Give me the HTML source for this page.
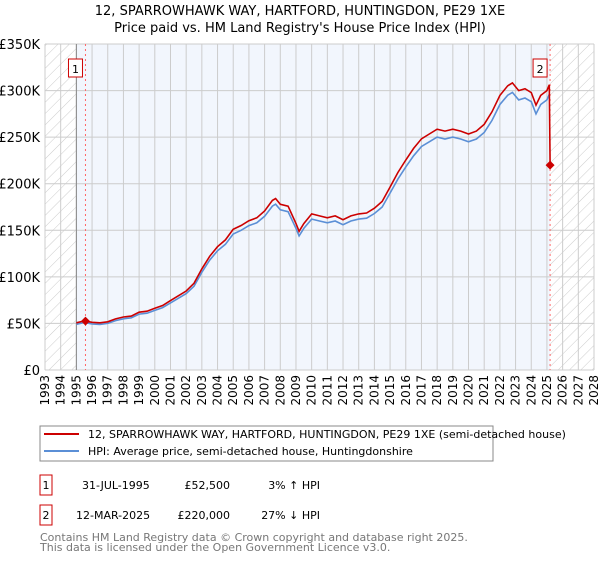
<!DOCTYPE html>
<html><head><meta charset="utf-8"><style>
body{margin:0;background:#fff;font-family:"Liberation Sans","DejaVu Sans",sans-serif;}
svg text{font-family:"DejaVu Sans","Liberation Sans",sans-serif;}
</style></head><body>
<svg width="600" height="560" viewBox="0 0 600 560">
<defs>
<pattern id="hatch" width="8" height="8" patternUnits="userSpaceOnUse" patternTransform="rotate(45)">
<rect width="8" height="8" fill="#fff"/><line x1="0" y1="0" x2="0" y2="8" stroke="#ccc" stroke-width="1"/>
</pattern>
</defs>
<text x="300" y="15" text-anchor="middle" font-size="13">12, SPARROWHAWK WAY, HARTFORD, HUNTINGDON, PE29 1XE</text>
<text x="300" y="32" text-anchor="middle" font-size="13">Price paid vs. HM Land Registry's House Price Index (HPI)</text>
<g id="plot"></g>
<g>
<rect x="40" y="426" width="453" height="35" fill="#fff" stroke="#888"/>
<line x1="44" y1="434" x2="79" y2="434" stroke="#cc0000" stroke-width="2"/>
<text x="88" y="438" font-size="11">12, SPARROWHAWK WAY, HARTFORD, HUNTINGDON, PE29 1XE (semi-detached house)</text>
<line x1="44" y1="451" x2="79" y2="451" stroke="#5b8fd6" stroke-width="2"/>
<text x="88" y="455" font-size="11">HPI: Average price, semi-detached house, Huntingdonshire</text>
</g>
<g font-size="11">
<rect x="40" y="475" width="12" height="20" fill="#fff" stroke="#cc0000"/>
<text x="46" y="489" text-anchor="middle">1</text>
<text x="82" y="489">31-JUL-1995</text>
<text x="230" y="489" text-anchor="end">£52,500</text>
<text x="320" y="489" text-anchor="end">3% ↑ HPI</text>
<rect x="40" y="505" width="12" height="20" fill="#fff" stroke="#cc0000"/>
<text x="46" y="519" text-anchor="middle">2</text>
<text x="76" y="519">12-MAR-2025</text>
<text x="230" y="519" text-anchor="end">£220,000</text>
<text x="320" y="519" text-anchor="end">27% ↓ HPI</text>
</g>
<text x="40" y="541" font-size="11" fill="#777">Contains HM Land Registry data © Crown copyright and database right 2025.</text>
<text x="40" y="551" font-size="11" fill="#777">This data is licensed under the Open Government Licence v3.0.</text>
</svg>
<script>
const hpiYears=[1995.0,1995.5,1996,1996.5,1997,1997.5,1998,1998.5,1999,1999.5,2000,2000.5,2001,2001.5,2002,2002.5,2003,2003.5,2004,2004.5,2005,2005.5,2006,2006.5,2007,2007.5,2007.7,2008,2008.5,2009,2009.2,2009.5,2010,2010.5,2011,2011.5,2012,2012.5,2013,2013.5,2014,2014.5,2015,2015.5,2016,2016.5,2017,2017.5,2018,2018.5,2019,2019.5,2020,2020.5,2021,2021.5,2022,2022.5,2022.8,2023.2,2023.6,2024,2024.3,2024.6,2025.0,2025.15];
const hpiValues=[49,51,49.5,49,50,53,55,56,60,61,64,67,72,77,82,90,105,118,128,135,146,150,155,158,165,176,178,172,170,152,144,152,162,160,158,160,156,160,162,163,168,175,190,205,218,230,240,245,250,248,250,248,245,248,255,268,285,295,298,290,292,288,275,285,290,296];
const saleYears=[1995.58,2025.2];
const salePrices=[52.5,220];
const saleLabels=["1","2"];
const yTicks=[0,50,100,150,200,250,300,350];
const yTickLabels=["£0","£50K","£100K","£150K","£200K","£250K","£300K","£350K"];
const xTicks=[];for(let y=1993;y<=2028;y++)xTicks.push(y);

const X0=45,X1=594,Y0=370,Y1=44,YMIN=1993,YMAX=2028,VMAX=350;
const xs=y=>X0+(y-YMIN)/(YMAX-YMIN)*(X1-X0);
const ys=v=>Y0-v/VMAX*(Y0-Y1);
const NS="http://www.w3.org/2000/svg";
const g=document.getElementById('plot');
function mk(t,a,p){const e=document.createElementNS(NS,t);for(const k in a)e.setAttribute(k,a[k]);(p||g).appendChild(e);return e;}

let e;
e=mk('rect',{x:X0,y:Y1,width:X1-X0,height:Y0-Y1,fill:'#f2f6fd'});


e=mk('rect',{x:X0,y:Y1,width:xs(1995)-X0,height:Y0-Y1,fill:'url(#hatch)'});


e=mk('rect',{x:xs(saleYears[1]),y:Y1,width:X1-xs(saleYears[1]),height:Y0-Y1,fill:'url(#hatch)'});



xTicks.forEach(t=>{
  e=mk('line',{x1:xs(t),x2:xs(t),y1:Y1,y2:Y0,stroke:'#ccc','stroke-width':1});
  
  
  e=mk('text',{x:0,y:0,'font-size':12,'text-anchor':'end',transform:`translate(${xs(t)+4},375) rotate(-90)`});
  e.textContent=t;
  
  
});
yTicks.forEach((t,i)=>{
  e=mk('line',{x1:X0,x2:X1,y1:ys(t),y2:ys(t),stroke:'#ccc','stroke-width':1});
  
  
  e=mk('text',{x:40,y:ys(t)+5,'font-size':13,'text-anchor':'end'});
  e.textContent=yTickLabels[i];
  
  
});
e=mk('line',{x1:xs(1995),x2:xs(1995),y1:Y1,y2:Y0,stroke:'#888','stroke-width':1});



saleYears.forEach((sy,i)=>{
  e=mk('line',{x1:xs(sy),x2:xs(sy),y1:Y1,y2:Y0,stroke:'#ff6666','stroke-width':1,'stroke-dasharray':'2,3'});
  
  
});

// HPI line
let d=hpiYears.map((y,i)=>(i?'L':'M')+xs(y).toFixed(1)+','+ys(hpiValues[i]).toFixed(1)).join(' ');
e=mk('path',{d:d,fill:'none',stroke:'#5b8fd6','stroke-width':1.6});



// price-paid line indexed to HPI from sale 1
function interp(y){for(let i=1;i<hpiYears.length;i++){if(y<=hpiYears[i]){const f=(y-hpiYears[i-1])/(hpiYears[i]-hpiYears[i-1]);return hpiValues[i-1]+f*(hpiValues[i]-hpiValues[i-1]);}}return hpiValues[hpiValues.length-1];}
const factor=salePrices[0]/interp(saleYears[0]);
let pts=hpiYears.map((y,i)=>[y,hpiValues[i]*factor]);
pts.push([saleYears[1],salePrices[1]]);
d=pts.map((p,i)=>(i?'L':'M')+xs(p[0]).toFixed(1)+','+ys(p[1]).toFixed(1)).join(' ');
e=mk('path',{d:d,fill:'none',stroke:'#cc0000','stroke-width':1.6});



saleYears.forEach((sy,i)=>{
  const cx=xs(sy),cy=ys(salePrices[i]);
  e=mk('path',{d:`M${cx},${cy-4.5}L${cx+4.5},${cy}L${cx},${cy+4.5}L${cx-4.5},${cy}Z`,fill:'#cc0000'});
  
  
  e=mk('rect',{x:cx-17,y:59,width:14,height:18,fill:'#fff',stroke:'#cc0000'});
  
  
  e=mk('text',{x:cx-10,y:73,'font-size':11,'text-anchor':'middle'});
  e.textContent=saleLabels[i];
  
  
});
</script>
</body></html>
